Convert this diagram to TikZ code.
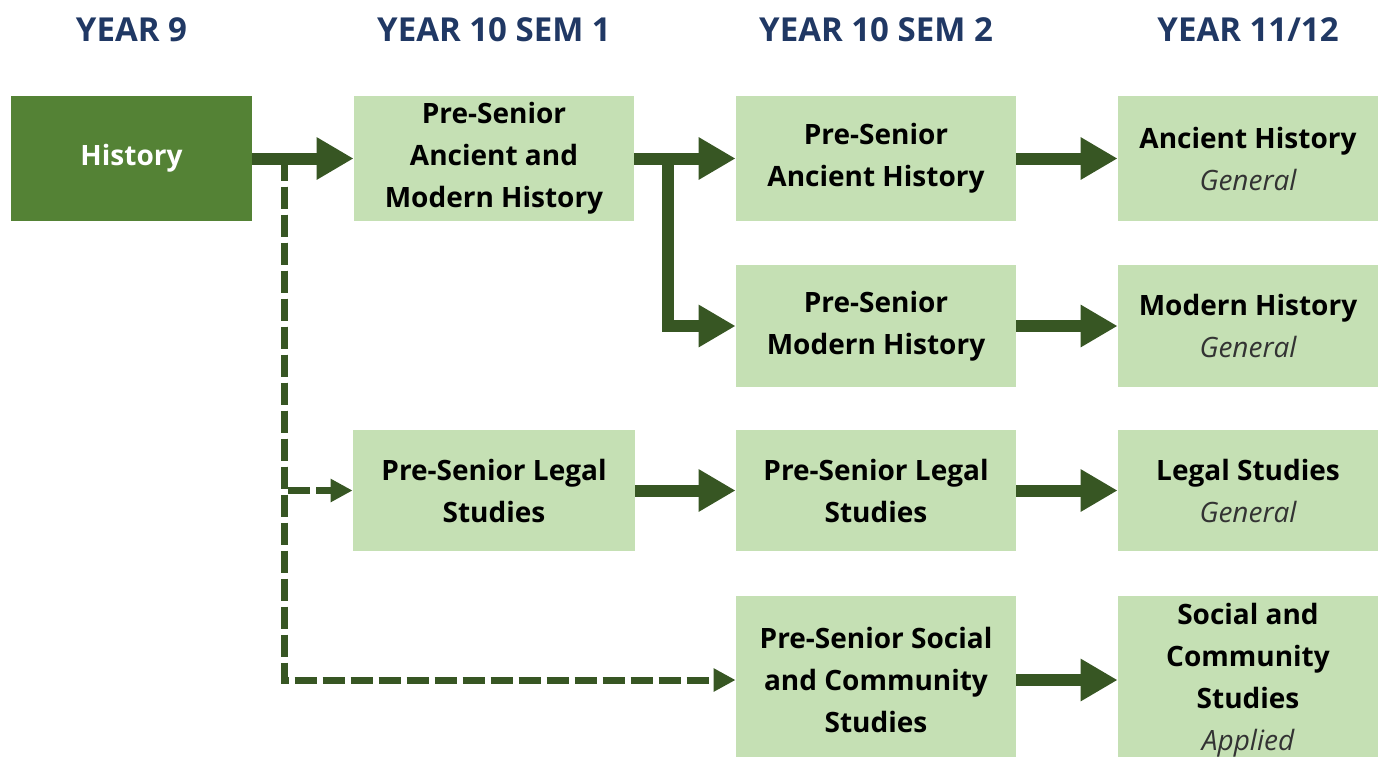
\documentclass[tikz,border=0pt]{standalone}
\usepackage{fontspec}
\setmainfont{Open Sans}
\usetikzlibrary{arrows.meta}
\definecolor{histgreen}{HTML}{548235}
\definecolor{boxgreen}{HTML}{C5E0B4}
\definecolor{arrowgreen}{HTML}{375623}
\definecolor{headblue}{HTML}{203864}
\tikzset{
	box/.style={fill=boxgreen, align=center, inner sep=0pt, minimum width=140pt, minimum height=61pt, font=\fontsize{14}{21}\selectfont\bfseries},
	endbox/.style={box, minimum width=130pt},
	head/.style={text=headblue, font=\fontsize{16.5}{19}\selectfont\bfseries},
	flow/.style={draw=arrowgreen, line width=6pt, -{Triangle[length=18.5pt,width=20pt]}},
	dashflow/.style={draw=arrowgreen, line width=3.5pt, dash pattern=on 11pt off 3pt, -{Triangle[length=11pt,width=11pt]}}
}
\newcommand{\kind}[1]{\\{\mdseries\itshape\color{black!80} #1}}
\begin{document}
\begin{tikzpicture}[x=0.5pt, y=-0.5pt, line join=miter]
			\def\colA{131.5}
			\def\colB{494}
			\def\colC{876}
			\def\colD{1248}
			\useasboundingbox (0,0) rectangle (1384,756);
			\clip (0,0) rectangle (1384,756);
			% headings
			\node[head] (h9) at (\colA,30) {YEAR 9};
			\node[head] (h10a) at (\colB,30) {YEAR 10 SEM 1};
			\node[head] (h10b) at (\colC,30) {YEAR 10 SEM 2};
			\node[head] (h11) at (\colD,30) {YEAR 11/12};
			% boxes
			\node[box, fill=histgreen, text=white, minimum width=120.5pt, minimum height=62.5pt] (hist) at (\colA,158.5) {History};
			\node[box, minimum height=62.5pt] (preAM) at (\colB,158.5) {Pre-Senior\\Ancient and\\Modern History};
			\node[box, minimum width=141pt, minimum height=60.5pt] (preLegalA) at (\colB,490.5) {Pre-Senior Legal\\Studies};
			\node[box, minimum height=62.5pt] (preAnc) at (\colC,158.5) {Pre-Senior\\Ancient History};
			\node[box] (preMod) at (\colC,326) {Pre-Senior\\Modern History};
			\node[box, minimum height=60.5pt] (preLegalB) at (\colC,490.5) {Pre-Senior Legal\\Studies};
			\node[box, minimum height=84pt] (preSoc) at (\colC,680) {Pre-Senior Social\\and Community\\Studies};
			\node[endbox, minimum height=62.5pt] (anc) at (\colD,158.5) {Ancient History\kind{General}};
			\node[endbox] (mod) at (\colD,326) {Modern History\kind{General}};
			\node[endbox, minimum height=60.5pt] (legal) at (\colD,490.5) {Legal Studies\kind{General}};
			\node[endbox, minimum height=84pt] (soc) at (\colD,680) {Social and\\Community\\Studies\kind{Applied}};
			% arrows
			\coordinate (split) at (668,158.5);
			\coordinate (dsplit) at (284,158.5);
			\draw[dashflow] (dsplit) |- (preLegalA.west);
			\draw[dashflow] (dsplit) |- (preSoc.west);
			\draw[flow] (hist) -- (preAM);
			\draw[flow] (preAM) -- (preAnc);
			\draw[flow] (split) |- (preMod.west);
			\draw[flow] (preLegalA) -- (preLegalB);
			\draw[flow] (preAnc) -- (anc);
			\draw[flow] (preMod) -- (mod);
			\draw[flow] (preLegalB) -- (legal);
			\draw[flow] (preSoc) -- (soc);
		\end{tikzpicture}
\end{document}
